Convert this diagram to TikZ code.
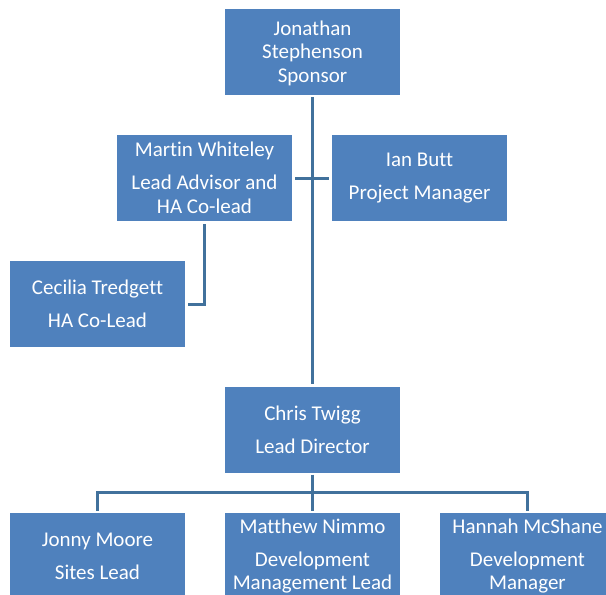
\documentclass[tikz,border=0pt]{standalone}
\usepackage{fontspec}
\setmainfont{Carlito}[Ligatures=NoCommon]
\definecolor{boxblue}{HTML}{4F81BD}
\definecolor{lineblue}{HTML}{41719C}
\begin{document}
\begin{tikzpicture}[x=1pt,y=-1pt,
  person/.style={fill=boxblue, draw=none, text=white, minimum width=175pt,
    minimum height=86pt, inner sep=0pt, align=center,
    font=\fontsize{21}{23.5}\selectfont},
  link/.style={draw=lineblue, line width=3pt}]
\useasboundingbox (0,0) rectangle (606,595);
\node[person] (js) at (312.5,52) {\strut Jonathan\\Stephenson\\Sponsor};
\node[person] (mw) at (204.5,178) {Martin Whiteley\\[9.5pt]Lead Advisor and\\HA Co-lead};
\node[person] (ib) at (419.5,178) {Ian Butt\\[9.5pt]Project Manager};
\node[person] (cc) at (97.5,304) {Cecilia Tredgett\\[9.5pt]HA Co-Lead};
\node[person] (ct) at (312.5,429.5) {Chris Twigg\\[9.5pt]Lead Director};
\node[person] (jm) at (97.5,556) {Jonny Moore\\[9.5pt]Sites Lead};
\node[person] (mn) at (312.5,556) {Matthew Nimmo\\[9.5pt]Development\\Management Lead};
\node[person] (hm) at (527.5,556) {Hannah McShane\\[9.5pt]Development\\Manager};
\coordinate (bus) at (312.5,492);
\draw[link, shorten <=2pt, shorten >=2pt] (js.south) -- (ct.north);
\draw[link, shorten <=3pt, shorten >=3pt] (mw.east) -- (ib.west);
\draw[link, shorten <=3pt, shorten >=3pt] (mw.south) |- (cc.east);
\draw[link, shorten <=2pt] (ct.south) -- (bus);
\draw[link, shorten >=2pt] (bus) -| (jm.north);
\draw[link, shorten >=2pt] (bus) -| (hm.north);
\draw[link, shorten >=2pt] (bus) -- (mn.north);
\end{tikzpicture}
\end{document}
